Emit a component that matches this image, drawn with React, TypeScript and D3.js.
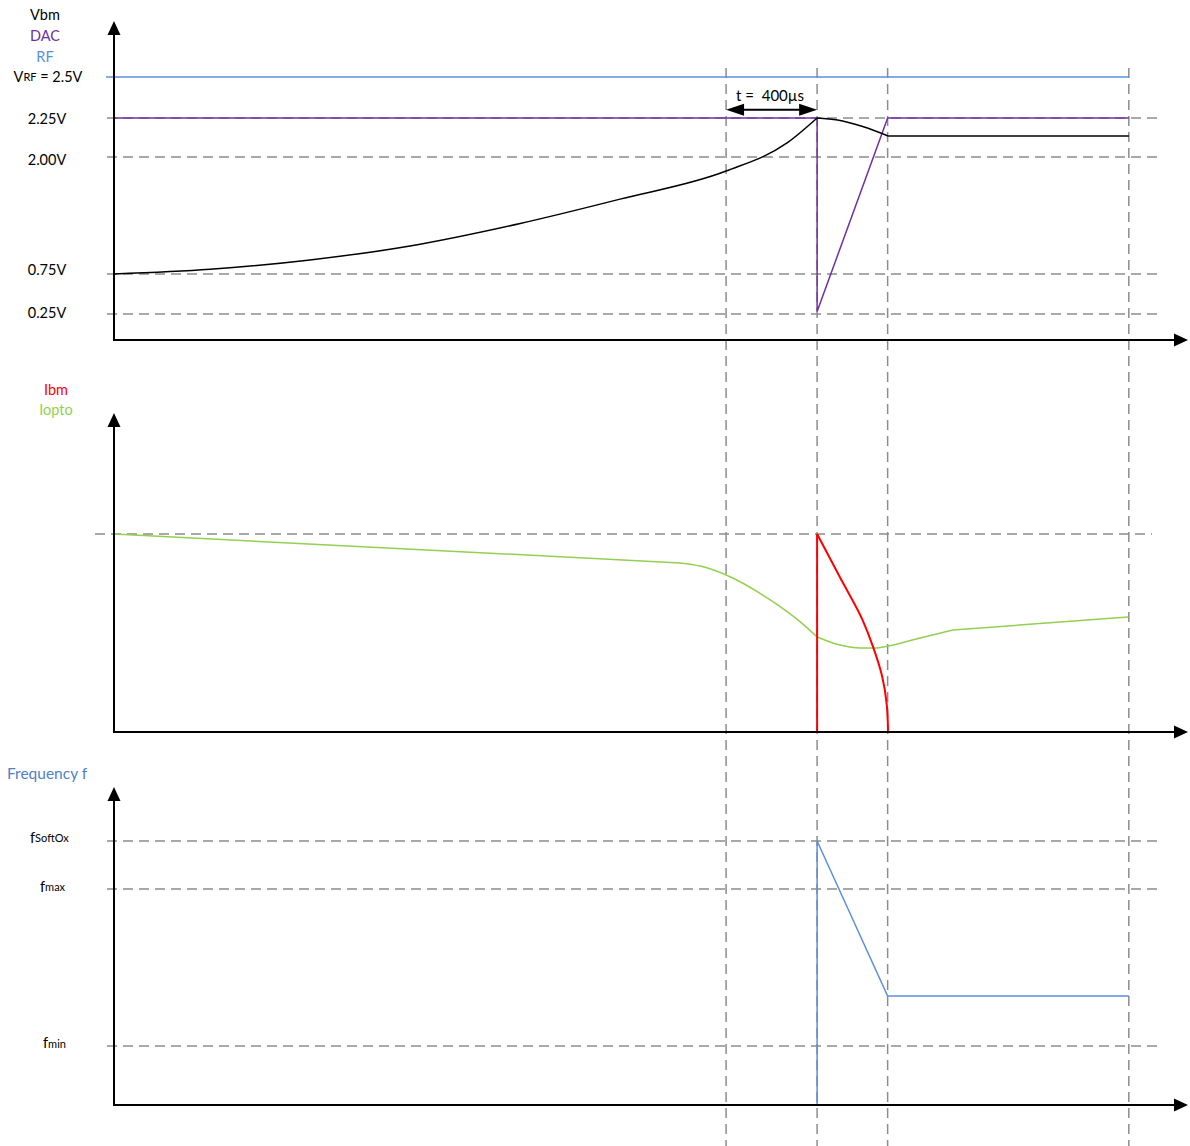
import React from "react";
import * as d3 from "d3";

// ---- data (time in µs) ----
const T_EVENTS = [2690, 3090, 3400, 4460];
const T_MAX = 4720;
const WINDOW_LABEL = "t =  400µs";

const VOLT_LEVELS = [2.25, 2.0, 0.75, 0.25];
const VOLT_LABELS = ["2.25V", "2.00V", "0.75V", "0.25V"];
const V_RF = 2.5;

const VBM_RISE_T = [0, 422, 861, 1301, 1785, 2224, 2690, 2958, 3090];
const VBM_RISE_V = [0.75, 0.8, 0.9, 1.05, 1.29, 1.55, 1.85, 2.09, 2.25];
const VBM_FALL_T = [3090, 3180, 3290, 3402, 4460];
const VBM_FALL_V = [2.25, 2.237, 2.195, 2.135, 2.135];

const DAC_T = [0, 3090, 3090, 3400, 4460];
const DAC_V = [2.25, 2.25, 0.28, 2.25, 2.25];

const RF_T = [0, 4460];

const IOPTO_T = [0, 2488, 2576, 2690, 2884, 3016, 3090, 3191, 3279, 3345, 3402, 3543, 3688, 4457];
const IOPTO_V = [1.0, 0.854, 0.838, 0.793, 0.667, 0.556, 0.48, 0.439, 0.424, 0.424, 0.434, 0.475, 0.515, 0.581];

const IBM_T = [3090, 3191, 3288, 3336, 3376, 3396, 3402];
const IBM_V = [1, 0.78, 0.57, 0.43, 0.28, 0.14, 0];

const FREQ_T = [3090, 3090, 3400, 4460];
const FREQ_V = [0, 1, 0.413, 0.413];
const FREQ_LEVELS = [1, 0.818, 0.2235];

// ---- style ----
const FONT = "Lato, 'Open Sans', sans-serif";
const GRID = "#8c8c8c";
const DASH = "10 6";
const C_PURPLE = "#7030a0";
const C_BLUE = "#5b8fd9";
const C_GREEN = "#92d050";
const C_RED = "#ff0000";

const pts = (ts: number[], vs: number[]) => ts.map((t, i) => [t, vs[i]] as [number, number]);

export default function App() {
  const x = d3.scaleLinear().domain([0, T_MAX]).range([114, 1188]);
  const yV = d3.scaleLinear().domain([0, 0.25, 0.75, 2.0, 2.25, 2.5]).range([340, 314, 274, 157, 118, 77]);
  const yI = d3.scaleLinear().domain([0, 1]).range([732, 534]);
  const yF = d3.scaleLinear().domain([0, 1]).range([1105, 841]);

  const lineOf = (y: any, curve: any = d3.curveLinear) =>
    d3.line<[number, number]>().x((d) => x(d[0])).y((d) => y(d[1])).curve(curve);

  const panels = [
    { origin: yV(0), tip: 21 },
    { origin: yI(0), tip: 413 },
    { origin: yF(0), tip: 787 },
  ];
  const x0 = x(0);
  const xEnd = x(T_MAX);

  const iopto = pts(IOPTO_T, IOPTO_V);
  const vbmRise = pts(VBM_RISE_T, VBM_RISE_V);
  const vbmFall = pts(VBM_FALL_T, VBM_FALL_V);

  const arrowY = yV(2.3);
  const ax1 = x(T_EVENTS[0]);
  const ax2 = x(T_EVENTS[1]);

  const hGuide = (y: number, key: string, xa = 107, xb = 1163) => (
    <line key={key} x1={xa} x2={xb} y1={y} y2={y} stroke={GRID} strokeWidth={1.5} strokeDasharray={DASH} />
  );

  return (
    <svg width={1190} height={1146} style={{ position: "absolute", left: 0, top: 0, background: "#fff" }} fontFamily={FONT}>
      {/* vertical guides */}
      {T_EVENTS.map((t, i) => (
        <line key={"vg" + i} x1={x(t)} x2={x(t)} y1={68} y2={1146} stroke={GRID} strokeWidth={1.5} strokeDasharray={DASH} />
      ))}
      {/* horizontal guides */}
      {VOLT_LEVELS.map((v, i) => hGuide(yV(v), "hv" + i))}
      {hGuide(yI(1), "hi", 95, 1152)}
      {FREQ_LEVELS.map((v, i) => hGuide(yF(v), "hf" + i))}

      {/* panel 1 */}
      <line x1={x0 - 8} x2={x(RF_T[1])} y1={yV(V_RF)} y2={yV(V_RF)} stroke={C_BLUE} strokeWidth={1.5} />
      <path d={lineOf(yV)(pts(DAC_T, DAC_V)) || ""} fill="none" stroke={C_PURPLE} strokeWidth={1.5} />
      <path d={lineOf(yV, d3.curveMonotoneX)(vbmRise) || ""} fill="none" stroke="#000" strokeWidth={1.5} />
      <path d={lineOf(yV, d3.curveMonotoneX)(vbmFall.slice(0, 4)) || ""} fill="none" stroke="#000" strokeWidth={1.5} />
      <path d={lineOf(yV)(vbmFall.slice(3)) || ""} fill="none" stroke="#000" strokeWidth={1.5} />

      {/* time window annotation */}
      <line x1={ax1 + 14} x2={ax2 - 14} y1={arrowY} y2={arrowY} stroke="#000" strokeWidth={2} />
      <path d={`M${ax1},${arrowY} L${ax1 + 18},${arrowY - 6} L${ax1 + 18},${arrowY + 6} Z`} fill="#000" />
      <path d={`M${ax2},${arrowY} L${ax2 - 18},${arrowY - 6} L${ax2 - 18},${arrowY + 6} Z`} fill="#000" />
      <text x={ax1 + 10} y={arrowY - 9} fontSize={15} fill="#000" style={{ whiteSpace: "pre" }}>{WINDOW_LABEL}</text>

      {/* panel 2 */}
      <path d={lineOf(yI)(iopto.slice(0, 2)) || ""} fill="none" stroke={C_GREEN} strokeWidth={1.5} />
      <path d={lineOf(yI, d3.curveMonotoneX)(iopto.slice(1, 7)) || ""} fill="none" stroke={C_GREEN} strokeWidth={1.5} />
      <path d={lineOf(yI, d3.curveMonotoneX)(iopto.slice(6, 13)) || ""} fill="none" stroke={C_GREEN} strokeWidth={1.5} />
      <path d={lineOf(yI)(iopto.slice(12)) || ""} fill="none" stroke={C_GREEN} strokeWidth={1.5} />
      <path d={lineOf(yI)([[IBM_T[0], 0], [IBM_T[0], IBM_V[0]]]) || ""} fill="none" stroke={C_RED} strokeWidth={2} />
      <path d={lineOf(yI, d3.curveMonotoneY)(pts(IBM_T, IBM_V)) || ""} fill="none" stroke={C_RED} strokeWidth={2} />

      {/* panel 3 */}
      <path d={lineOf(yF)(pts(FREQ_T, FREQ_V)) || ""} fill="none" stroke={C_BLUE} strokeWidth={1.5} />

      {/* axes */}
      {panels.map((p, i) => (
        <g key={"ax" + i}>
          <line x1={x0} x2={x0} y1={p.origin} y2={p.tip + 12} stroke="#000" strokeWidth={2} />
          <path d={`M${x0},${p.tip} L${x0 - 6.5},${p.tip + 14} L${x0 + 6.5},${p.tip + 14} Z`} fill="#000" />
          <line x1={x0 - 1} x2={xEnd - 12} y1={p.origin} y2={p.origin} stroke="#000" strokeWidth={2} />
          <path d={`M${xEnd},${p.origin} L${xEnd - 14},${p.origin - 6.5} L${xEnd - 14},${p.origin + 6.5} Z`} fill="#000" />
        </g>
      ))}

      {/* panel 1 labels */}
      <g fontSize={14.5} textAnchor="middle" dominantBaseline="central">
        <text x={45} y={14} fill="#000">Vbm</text>
        <text x={45} y={35} fill={C_PURPLE}>DAC</text>
        <text x={45} y={56} fill={C_BLUE}>RF</text>
        <text x={48} y={yV(V_RF) - 1} fill="#000">
          V<tspan fontSize={11}>RF</tspan> = 2.5V
        </text>
        {VOLT_LEVELS.map((v, i) => (
          <text key={"vl" + i} x={47} y={yV(v) + [0, 2, -5, -2][i]} fill="#000">{VOLT_LABELS[i]}</text>
        ))}
      </g>

      {/* panel 2 labels */}
      <g fontSize={14.5} textAnchor="middle" dominantBaseline="central">
        <text x={56} y={389} fill={C_RED}>Ibm</text>
        <text x={56} y={409} fill={C_GREEN}>Iopto</text>
      </g>

      {/* panel 3 labels */}
      <text x={7} y={773} fontSize={15.5} fill="#4f81c7" dominantBaseline="central">Frequency f</text>
      <g fontSize={14.5} dominantBaseline="central" fill="#000">
        <text x={30} y={yF(FREQ_LEVELS[0]) - 4}>f<tspan fontSize={11}>SoftOx</tspan></text>
        <text x={40} y={yF(FREQ_LEVELS[1]) - 3}>f<tspan fontSize={11}>max</tspan></text>
        <text x={43} y={yF(FREQ_LEVELS[2]) - 3}>f<tspan fontSize={11}>min</tspan></text>
      </g>
    </svg>
  );
}
